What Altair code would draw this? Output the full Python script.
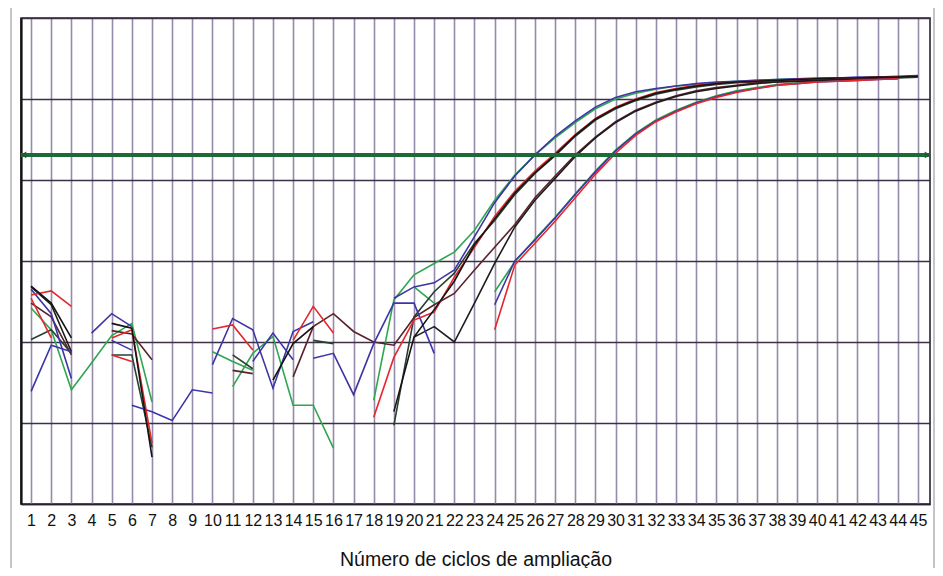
import altair as alt
import pandas as pd

# ---------------- data ----------------
cycles = list(range(1, 46))
y_grid = [0, 1, 2, 3, 4, 5, 6]
threshold = [4.31]
x_title = "Número de ciclos de ampliação"

# amplification phases (grid units)
a_blue = [2.54, 2.68, 2.73, 2.89, 3.30, 3.72, 4.05, 4.31, 4.54, 4.73, 4.90, 5.02, 5.09, 5.13,
          5.16, 5.19, 5.21, 5.22, 5.23, 5.24, 5.25, 5.26, 5.26, 5.27, 5.27, 5.28, 5.29]          # from 19
a_green = [1.28, 2.52, 2.83, 2.97, 3.11, 3.38, 3.75, 4.06, 4.31, 4.52, 4.71, 4.88, 5.00, 5.07,
           5.12, 5.16, 5.18, 5.20, 5.22, 5.23, 5.24, 5.25, 5.25, 5.26, 5.26, 5.27, 5.27, 5.28]   # from 18
b_black = [1.14, 2.06, 2.40, 2.75, 3.20, 3.52, 3.84, 4.09, 4.31, 4.55, 4.75, 4.89, 4.99, 5.07,
           5.12, 5.16, 5.19, 5.21, 5.22, 5.23, 5.24, 5.25, 5.26, 5.26, 5.27, 5.27, 5.28]         # from 19
b_red = [1.07, 1.81, 2.27, 2.37, 2.80, 3.17, 3.55, 3.86, 4.11, 4.33, 4.56, 4.76, 4.90, 5.00,
         5.08, 5.13, 5.17, 5.19, 5.21, 5.22, 5.23, 5.24, 5.25, 5.26, 5.26, 5.27, 5.27, 5.28]     # from 18
b_dkgreen = [0.97, 2.31, 2.62, 2.85, 3.22, 3.50, 3.82, 4.08, 4.30, 4.54, 4.74, 4.88, 4.98, 5.06,
             5.11, 5.15, 5.18, 5.20, 5.21, 5.22, 5.23, 5.24, 5.25, 5.25, 5.26, 5.26, 5.27]     # from 19
c_black = [2.06, 2.19, 2.00, 2.48, 2.97, 3.42, 3.75, 4.02, 4.29, 4.52, 4.71, 4.85, 4.95, 5.03,
           5.09, 5.13, 5.16, 5.19, 5.21, 5.22, 5.23, 5.24, 5.25, 5.26, 5.27, 5.28]               # from 20
c_brown = [1.57, 2.19, 2.35, 2.13, 2.00, 1.96, 2.30, 2.46, 2.60, 2.89, 3.17, 3.45, 3.78, 4.05,
           4.31, 4.53, 4.72, 4.86, 4.96, 5.04, 5.10, 5.14, 5.17, 5.20, 5.21, 5.22, 5.23, 5.24,
           5.25, 5.26, 5.27, 5.28]                                                             # from 14
d_green = [2.62, 2.99, 3.27, 3.54, 3.83, 4.11, 4.37, 4.58, 4.74, 4.86, 4.96, 5.04, 5.10, 5.14,
           5.18, 5.20, 5.22, 5.23, 5.24, 5.25, 5.25]                                           # from 24
d_blue = [2.46, 3.00, 3.26, 3.53, 3.82, 4.10, 4.36, 4.57, 4.73, 4.85, 4.95, 5.03, 5.09, 5.13,
          5.17, 5.19, 5.21, 5.22, 5.23, 5.24, 5.25]                                            # from 24
d_red = [2.15, 2.95, 3.22, 3.49, 3.78, 4.07, 4.33, 4.55, 4.72, 4.84, 4.94, 5.02, 5.08, 5.13,
         5.17, 5.19, 5.21, 5.22, 5.23, 5.24, 5.25]                                             # from 24

# each series: name, colour, {first cycle of segment: values}
series = [
    ("green_1", "#2fa64f", {1: [2.42, 2.15, 1.41, 1.74, 2.08, 2.23, 1.26], 10: [1.88, 1.76, 1.65], 18: a_green}),
    ("green_2", "#2fa64f", {11: [1.45, 1.86, 2.07, 1.22, 1.22, 0.69], 20: [2.68, 2.48], 24: d_green}),
    ("dkgreen_1", "#27412f", {1: [2.03, 2.15, 1.86], 5: [1.84, 1.84, 0.70], 11: [1.84, 1.67], 15: [2.02, 1.98], 19: b_dkgreen}),
    ("brown_1", "#5a2329", {1: [2.48, 2.31, 1.84], 5: [2.14, 2.10, 1.78], 11: [1.65, 1.61], 14: c_brown}),
    ("black_2", "#1c1c1c", {1: [2.68, 2.46, 1.88], 20: c_black}),
    ("blue_1", "#3d35a6", {1: [2.65, 2.35, 1.55], 4: [2.11, 2.35, 2.19], 10: [1.72, 2.29, 2.15, 1.43, 2.13, 2.25]}),
    ("blue_2", "#3d35a6", {1: [1.39, 1.96, 1.88], 5: [2.02, 1.90], 12: [1.76, 2.11, 1.78], 19: a_blue}),
    ("blue_3", "#3d35a6", {6: [1.22, 1.14, 1.03, 1.41, 1.37], 15: [1.80, 1.86, 1.35, 1.98, 2.48, 2.48, 1.86]}),
    ("blue_4", "#3d35a6", {24: d_blue}),
    ("red_1", "#e5262b", {1: [2.58, 2.63, 2.44], 5: [2.05, 2.15, 0.75], 10: [2.16, 2.21, 1.90], 14: [2.02, 2.44, 2.11], 18: b_red}),
    ("red_2", "#e5262b", {1: [2.54, 2.05], 5: [1.84, 1.76], 24: d_red}),
    ("black_1", "#141414", {1: [2.69, 2.48, 2.05], 5: [2.23, 2.17, 0.58], 13: [1.53, 1.98, 2.19], 19: b_black}),
]

rows = []
for name, colour, segs in series:
    for k, (start, vals) in enumerate(segs.items()):
        for i, v in enumerate(vals):
            rows.append({"series": name, "seg": f"{name}-{k}", "cycle": start + i, "value": v})
df = pd.DataFrame(rows)
names = [s[0] for s in series]
colours = [s[1] for s in series]

# ---------------- chart ----------------
W, H = 909, 486
xscale = alt.Scale(domain=[0.5, 45.6], nice=False, zero=False)
yscale = alt.Scale(domain=[0, 6], nice=False, zero=False)
xaxis = alt.Axis(values=cycles, title=x_title, grid=True, gridColor="#958aab",
                 gridWidth=1.6, ticks=False, domainColor="#2a2230", domainWidth=1.6,
                 labelOverlap=False, labelFlush=False, labelBound=False,
                 labelFont="Liberation Sans", labelFontSize=16, labelColor="#111", labelPadding=8,
                 titleFont="Liberation Sans", titleFontSize=19.5, titleFontWeight="normal",
                 titleColor="#111", titlePadding=22)
yaxis = alt.Axis(values=y_grid, labels=False, ticks=False, title=None, grid=True,
                 gridColor="#3c2f47", gridWidth=1.6, domainColor="#111", domainWidth=2.2)
X = alt.X("cycle:Q", scale=xscale, axis=xaxis)
Y = alt.Y("value:Q", scale=yscale, axis=yaxis)

lines = alt.Chart(df).mark_line(strokeWidth=1.6, clip=True).encode(
    x=X, y=Y,
    color=alt.Color("series:N", scale=alt.Scale(domain=names, range=colours), legend=None),
    detail="seg:N",
    order="cycle:Q",
)

thr_df = pd.DataFrame({"value": threshold})
thr = alt.Chart(thr_df).mark_rule(color="#1d6a37", strokeWidth=4).encode(y=Y)

arrow_df = pd.DataFrame({"cycle": [0.62, 45.48], "value": threshold * 2,
                         "shape": ["triangle-left", "triangle-right"]})
arrows = alt.Chart(arrow_df).mark_point(filled=True, size=45, color="#1d5e33", opacity=1).encode(
    x=X, y=Y,
    shape=alt.Shape("shape:N", scale=None, legend=None),
)

one = pd.DataFrame({"k": [0]})
frame_top = alt.Chart(one).mark_rule(color="#8c8c8c", strokeWidth=1).encode(
    x=alt.value(-10), x2=alt.value(913), y=alt.value(-15))
frame_left = alt.Chart(one).mark_rule(color="#8c8c8c", strokeWidth=1).encode(
    x=alt.value(-10), y=alt.value(-15), y2=alt.value(H + 80))
frame_right = alt.Chart(one).mark_rule(color="#8c8c8c", strokeWidth=1).encode(
    x=alt.value(913), y=alt.value(-15), y2=alt.value(H + 80))

chart = alt.layer(lines, thr, arrows, frame_top, frame_left, frame_right).properties(
    width=W, height=H,
    autosize=alt.AutoSizeParams(type="none"),
    padding={"left": 13, "top": 10, "right": 5, "bottom": 64},
    background="white",
).configure_view(stroke="#2a2230", strokeWidth=1.6)

chart.save("out.html", embed_options={"renderer": "svg", "actions": False})
